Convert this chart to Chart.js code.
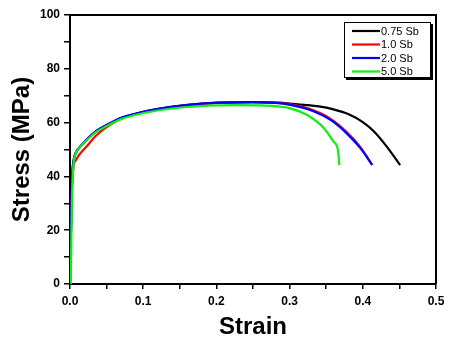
<!DOCTYPE html>
<html>
<head>
<meta charset="utf-8">
<script src="https://cdn.jsdelivr.net/npm/chart.js@4/dist/chart.umd.min.js"></script>
<style>
html,body{margin:0;padding:0;background:#fff;}
#wrap{width:465px;height:347px;}
</style>
</head>
<body>
<div id="wrap"><canvas id="c" width="465" height="347"></canvas></div>
<script>
// Series labels and colours
const seriesLabels = ['0.75 Sb', '1.0 Sb', '2.0 Sb', '5.0 Sb'];
const seriesColors = ['#000000', '#ff0000', '#0000ff', '#11ee11'];

// 0.75 Sb
const strain075 = [0, 0.001, 0.002, 0.003, 0.005, 0.008, 0.012, 0.02, 0.035, 0.05, 0.069, 0.09, 0.12, 0.16, 0.20, 0.25, 0.28, 0.30, 0.32, 0.34, 0.36, 0.38, 0.40, 0.415, 0.433, 0.451];
const stress075 = [0, 15, 30, 40, 46, 48.8, 50.4, 52.8, 56.6, 59, 61.6, 63.3, 65.0, 66.5, 67.3, 67.6, 67.4, 67.1, 66.6, 66.0, 64.9, 63.2, 60.2, 56.8, 51.0, 44.2];

// 1.0 Sb
const strain10 = [0, 0.001, 0.002, 0.003, 0.005, 0.008, 0.012, 0.023, 0.035, 0.05, 0.069, 0.09, 0.12, 0.16, 0.20, 0.25, 0.28, 0.301, 0.328, 0.356, 0.378, 0.397, 0.412];
const stress10 = [0, 14, 28, 37, 44, 46, 47.8, 51.2, 55, 58.3, 61.3, 63.2, 64.9, 66.5, 67.3, 67.6, 67.4, 66.8, 65.0, 61.4, 56.5, 50.8, 44.6];

// 2.0 Sb
const strain20 = [0, 0.001, 0.002, 0.003, 0.005, 0.008, 0.012, 0.02, 0.035, 0.05, 0.069, 0.09, 0.12, 0.16, 0.20, 0.25, 0.28, 0.301, 0.328, 0.356, 0.378, 0.397, 0.413];
const stress20 = [0, 15, 30, 40, 46, 48.8, 50.5, 52.9, 56.7, 59.1, 61.7, 63.4, 65.1, 66.6, 67.4, 67.6, 67.3, 66.6, 64.7, 61.0, 56.0, 50.4, 44.2];

// 5.0 Sb
const strain50 = [0.001, 0.002, 0.003, 0.005, 0.008, 0.012, 0.02, 0.035, 0.05, 0.069, 0.09, 0.12, 0.16, 0.20, 0.23, 0.26, 0.28, 0.301, 0.324, 0.347, 0.360, 0.366, 0.368];
const stress50 = [0, 20, 35, 45, 48.6, 50.4, 52.7, 56.4, 58.7, 61.2, 62.9, 64.5, 65.8, 66.4, 66.5, 66.4, 66.1, 65.3, 62.8, 57.9, 52.9, 49.8, 44.2];

// Axis tick labels
const xTickLabels = ['0.0', '0.1', '0.2', '0.3', '0.4', '0.5'];
const yTickLabels = ['0', '20', '40', '60', '80', '100'];

function pts(xs, ys) { return xs.map((x, i) => ({x: x, y: ys[i]})); }
const allX = [strain075, strain10, strain20, strain50];
const allY = [stress075, stress10, stress20, stress50];

const datasets = seriesLabels.map((lab, i) => ({
  label: lab,
  data: pts(allX[i], allY[i]),
  borderColor: seriesColors[i],
  backgroundColor: seriesColors[i],
  borderWidth: 2.2,
  pointRadius: 0,
  showLine: true,
  fill: false,
  cubicInterpolationMode: 'monotone',
  order: 4 - i
}));

const framePlugin = {
  id: 'frame',
  afterDatasetsDraw(chart) {
    const {ctx, chartArea: a} = chart;
    ctx.save();
    ctx.strokeStyle = '#000';
    ctx.lineWidth = 2;
    ctx.beginPath();
    ctx.moveTo(a.left, a.top);
    ctx.lineTo(a.right, a.top);
    ctx.lineTo(a.right, a.bottom);
    ctx.stroke();
    ctx.restore();
  }
};

const legendPlugin = {
  id: 'boxLegend',
  afterDatasetsDraw(chart) {
    const {ctx} = chart;
    const bx = 344, by = 22, bw = 87, bh = 56;
    ctx.save();
    ctx.fillStyle = '#000';
    ctx.fillRect(bx + 2, by + 2, bw, bh);
    ctx.fillStyle = '#fff';
    ctx.fillRect(bx, by, bw, bh);
    ctx.strokeStyle = '#000';
    ctx.lineWidth = 1;
    ctx.strokeRect(bx + 0.5, by + 0.5, bw - 1, bh - 1);
    ctx.font = '11px "Liberation Sans", Arial, sans-serif';
    ctx.textBaseline = 'middle';
    ctx.textAlign = 'left';
    chart.data.datasets.forEach((ds, i) => {
      const y = by + 9 + i * 13.5;
      ctx.strokeStyle = ds.borderColor;
      ctx.lineWidth = 2.2;
      ctx.beginPath();
      ctx.moveTo(bx + 8, y);
      ctx.lineTo(bx + 36, y);
      ctx.stroke();
      ctx.fillStyle = '#000';
      ctx.fillText(ds.label, bx + 37, y + 0.5);
    });
    ctx.restore();
  }
};

const tickFont = {family: '"Liberation Sans", Arial, sans-serif', size: 12, weight: 'bold'};
const titleFont = {family: '"Liberation Sans", Arial, sans-serif', size: 24, weight: 'bold'};

new Chart(document.getElementById('c'), {
  type: 'scatter',
  data: {datasets: datasets},
  plugins: [framePlugin, legendPlugin],
  options: {
    responsive: false,
    animation: false,
    devicePixelRatio: 1,
    layout: {padding: {top: 15, right: 29, left: 0, bottom: 0}},
    plugins: {legend: {display: false}, tooltip: {enabled: false}},
    scales: {
      x: {
        type: 'linear',
        min: 0, max: 0.5,
        afterFit(s) { s.height = 63; },
        border: {display: true, color: '#000', width: 2},
        grid: {drawOnChartArea: false, drawTicks: true, tickLength: 5, color: '#000', lineWidth: 1.5},
        ticks: {
          stepSize: 0.05, autoSkip: false, maxRotation: 0, padding: 5, color: '#000', font: tickFont,
          callback: (v) => {
            const k = Math.round(v * 20);
            return k % 2 === 0 ? xTickLabels[k / 2] : '';
          }
        },
        title: {display: true, text: 'Strain', color: '#000', font: titleFont, padding: {top: 0, bottom: 5}}
      },
      y: {
        type: 'linear',
        min: 0, max: 100,
        afterFit(s) { s.width = 70; },
        border: {display: true, color: '#000', width: 2},
        grid: {drawOnChartArea: false, drawTicks: true, tickLength: 6, color: '#000', lineWidth: 1.5},
        ticks: {
          stepSize: 10, autoSkip: false, padding: 4, color: '#000', font: tickFont,
          callback: (v) => {
            const k = Math.round(v / 10);
            return k % 2 === 0 ? yTickLabels[k / 2] : '';
          }
        },
        title: {display: true, text: 'Stress (MPa)', color: '#000', font: titleFont, padding: {top: 8, bottom: 0}}
      }
    }
  }
});
</script>
</body>
</html>
